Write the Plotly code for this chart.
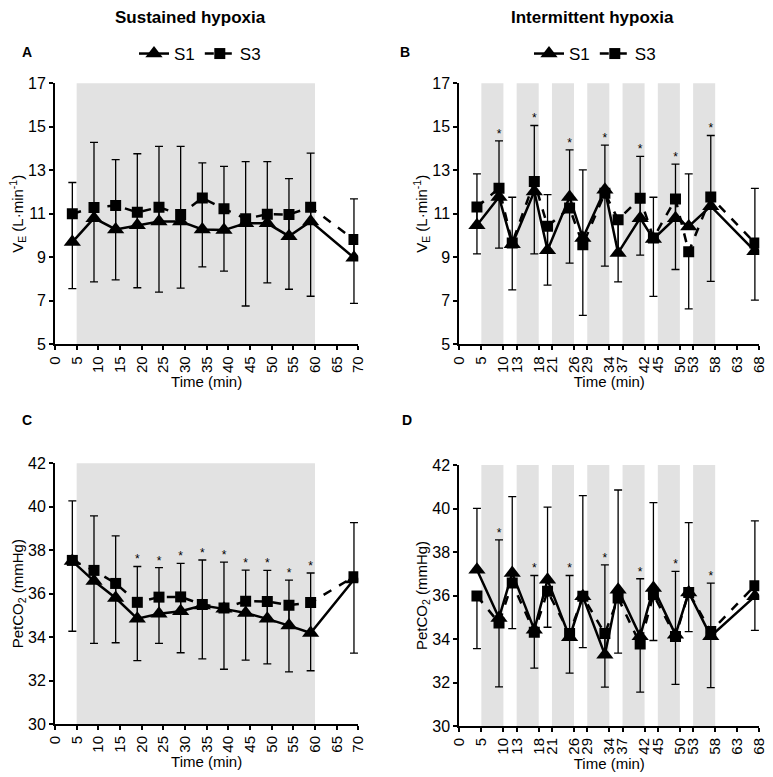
import plotly.graph_objects as go

# ---------------- data ----------------
# Sustained hypoxia (panels A, C)
time_sus = [4, 9, 14, 19, 24, 29, 34, 39, 44, 49, 54, 59, 69]
ticks_sus = [0, 5, 10, 15, 20, 25, 30, 35, 40, 45, 50, 55, 60, 65, 70]

ve_sus_s1 = [9.70, 10.80, 10.28, 10.47, 10.65, 10.65, 10.28, 10.25, 10.56, 10.56, 9.97, 10.65, 8.98]
ve_sus_s3 = [11.00, 11.29, 11.38, 11.07, 11.30, 10.97, 11.73, 11.23, 10.77, 10.98, 10.97, 11.30, 9.82]
ve_sus_s1_sd = [2.74, 3.48, 3.21, 3.29, 3.45, 3.45, 3.06, 2.93, 2.84, 2.84, 2.65, 3.14, 2.71]
ve_sus_s3_sd = [3.44, 3.42, 3.42, 3.47, 3.90, 3.39, 3.17, 2.87, 4.01, 3.16, 3.44, 4.09, 2.94]
ve_sus_sig = []

pet_sus_s1 = [37.50, 36.58, 35.80, 34.85, 35.07, 35.19, 35.45, 35.30, 35.11, 34.84, 34.53, 34.19, 36.65]
pet_sus_s3 = [37.53, 37.07, 36.47, 35.60, 35.84, 35.85, 35.50, 35.34, 35.65, 35.64, 35.47, 35.59, 36.78]
pet_sus_s1_sd = [2.77, 3.00, 2.86, 2.40, 2.13, 2.20, 2.10, 2.15, 1.97, 2.23, 2.09, 2.76, 2.62]
pet_sus_s3_sd = [3.26, 3.36, 2.73, 2.68, 2.13, 2.57, 2.50, 2.82, 2.71, 2.87, 3.07, 3.14, 3.52]
pet_sus_sig = [19, 24, 29, 34, 39, 44, 49, 54, 59]

# Intermittent hypoxia (panels B, D)
time_int = [4, 9, 12, 17, 20, 25, 28, 33, 36, 41, 44, 49, 52, 57, 67]
ticks_int = [0, 5, 10, 13, 18, 21, 26, 29, 34, 37, 42, 45, 50, 53, 58, 63, 68]
hypoxia_int = [(5, 10), (13, 18), (21, 26), (29, 34), (37, 42), (45, 50), (53, 58)]
hypoxia_sus = [(5, 60)]

ve_int_s1 = [10.47, 11.77, 9.60, 12.03, 9.32, 11.77, 9.89, 12.10, 9.20, 10.80, 9.84, 10.80, 10.42, 11.35, 9.28]
ve_int_s3 = [11.31, 12.18, 9.66, 12.49, 10.43, 11.27, 9.58, 11.95, 10.73, 11.72, 9.89, 11.68, 9.25, 11.77, 9.66]
ve_int_s1_sd = [2.37, 2.58, 2.16, 3.03, 2.56, 2.17, 3.13, 2.06, 1.40, 2.84, 1.92, 2.48, 2.42, 3.25, 2.89]
ve_int_s3_sd = [2.15, 2.76, 2.16, 3.33, 2.71, 2.54, 3.25, 3.36, 2.86, 2.62, 2.69, 3.24, 2.62, 3.88, 2.63]
ve_int_sig = [9, 17, 25, 33, 41, 49, 57]

pet_int_s1 = [37.18, 34.97, 37.03, 34.43, 36.72, 34.08, 35.96, 33.28, 36.27, 34.13, 36.34, 34.20, 36.14, 34.13, 35.96]
pet_int_s3 = [35.98, 34.74, 36.57, 34.31, 36.19, 34.25, 35.96, 34.25, 35.88, 33.77, 36.04, 34.11, 36.14, 34.35, 36.45]
pet_int_s1_sd = [2.83, 3.59, 3.52, 2.49, 3.34, 2.84, 4.63, 4.13, 4.58, 2.64, 3.93, 2.91, 3.21, 2.44, 3.47]
pet_int_s3_sd = [2.42, 2.94, 2.09, 1.65, 1.65, 1.82, 2.36, 2.46, 2.53, 2.21, 2.11, 2.20, 1.80, 2.59, 2.05]
pet_int_sig = [9, 17, 25, 33, 41, 49, 57]

series_names = ["S1", "S3"]

# ---------------- figure ----------------
W, H = 773, 777
FONT = "Liberation Sans, Arial, sans-serif"
fig = go.Figure()

def px_x(p):
    return p / W

def px_y(p):
    return 1 - p / H

panels = [
    ("1", time_sus, ve_sus_s1, ve_sus_s3, ve_sus_s1_sd, ve_sus_s3_sd, ve_sus_sig, ticks_sus, 70,
     [5, 17], [5, 7, 9, 11, 13, 15, 17], "V<sub>E</sub> (L·min<sup>-1</sup>)", hypoxia_sus,
     [px_x(55), px_x(358.3)], [px_y(344.3), px_y(83.3)], "legend", "A"),
    ("2", time_int, ve_int_s1, ve_int_s3, ve_int_s1_sd, ve_int_s3_sd, ve_int_sig, ticks_int, 68,
     [5, 17], [5, 7, 9, 11, 13, 15, 17], "V<sub>E</sub> (L·min<sup>-1</sup>)", hypoxia_int,
     [px_x(459.3), px_x(759.3)], [px_y(344.3), px_y(83.3)], "legend2", "B"),
    ("3", time_sus, pet_sus_s1, pet_sus_s3, pet_sus_s1_sd, pet_sus_s3_sd, pet_sus_sig, ticks_sus, 70,
     [30, 42], [30, 32, 34, 36, 38, 40, 42], "PetCO<sub>2</sub> (mmHg)", hypoxia_sus,
     [px_x(55), px_x(358.3)], [px_y(724), px_y(463.3)], None, "C"),
    ("4", time_int, pet_int_s1, pet_int_s3, pet_int_s1_sd, pet_int_s3_sd, pet_int_sig, ticks_int, 68,
     [30, 42], [30, 32, 34, 36, 38, 40, 42], "PetCO<sub>2</sub> (mmHg)", hypoxia_int,
     [px_x(459.3), px_x(759.3)], [px_y(726), px_y(465)], None, "D"),
]

layout_axes = {}
shapes = []
annotations = []

for (n, xs, s1, s3, sd1, sd3, sig, ticks, xmax, yr, ytv, ytitle, bands, xdom, ydom, leg, letter) in panels:
    xa = "x" if n == "1" else "x" + n
    ya = "y" if n == "1" else "y" + n
    xkey = "xaxis" if n == "1" else "xaxis" + n
    ykey = "yaxis" if n == "1" else "yaxis" + n

    for (b0, b1) in bands:
        shapes.append(dict(type="rect", xref=xa, yref=ya + " domain", x0=b0, x1=b1, y0=0, y1=1,
                           fillcolor="#e2e2e2", line=dict(width=0), layer="below"))

    show = leg is not None
    fig.add_trace(go.Scatter(
        x=xs, y=s1, name=series_names[0], mode="lines+markers", xaxis=xa, yaxis=ya,
        line=dict(color="black", width=2.5, dash="solid"),
        marker=dict(symbol="triangle-up", size=15, color="black"),
        error_y=dict(type="data", symmetric=False, array=sd1, arrayminus=[0] * len(sd1),
                     color="black", thickness=1.3, width=4),
        showlegend=show, legend=leg if show else "legend"))
    fig.add_trace(go.Scatter(
        x=xs, y=s3, name=series_names[1], mode="lines+markers", xaxis=xa, yaxis=ya,
        line=dict(color="black", width=2.5, dash="dash"),
        marker=dict(symbol="square", size=11, color="black"),
        error_y=dict(type="data", symmetric=False, array=[0] * len(sd3), arrayminus=sd3,
                     color="black", thickness=1.3, width=4),
        showlegend=show, legend=leg if show else "legend"))

    if sig:
        sx, sy = [], []
        for xv, m, d in zip(xs, s1, sd1):
            if xv in sig:
                sx.append(xv)
                sy.append(m + d)
        fig.add_trace(go.Scatter(x=sx, y=sy, mode="text", text=["*"] * len(sx),
                                 textposition="top center", textfont=dict(size=12, color="black", family=FONT),
                                 xaxis=xa, yaxis=ya, showlegend=False, hoverinfo="skip"))

    layout_axes[xkey] = dict(
        domain=xdom, anchor=ya, range=[0, xmax], tickmode="array", tickvals=ticks,
        ticktext=[str(t) for t in ticks], tickangle=-90, showgrid=False, zeroline=False,
        showline=True, linecolor="black", linewidth=2, ticks="outside", ticklen=4,
        tickwidth=1.5, tickcolor="black", tickfont=dict(size=15, family=FONT, color="black"),
        automargin=False,
        title=dict(text="Time (min)", font=dict(size=15, family=FONT, color="black"), standoff=0))
    layout_axes[ykey] = dict(
        domain=ydom, anchor=xa, range=yr, tickmode="array", tickvals=ytv, showgrid=False,
        zeroline=False, showline=True, linecolor="black", linewidth=2, ticks="outside",
        ticklen=4, tickwidth=1.5, tickcolor="black", automargin=False,
        tickfont=dict(size=16, family=FONT, color="black"),
        title=dict(text=ytitle, font=dict(size=15, family=FONT, color="black"), standoff=0))

letter_pos = {"A": (20, 52), "B": (398, 52), "C": (20, 420), "D": (400, 420)}
for L, (lx, ly) in letter_pos.items():
    annotations.append(dict(text="<b>%s</b>" % L, x=px_x(lx), y=px_y(ly), xref="paper", yref="paper",
                            xanchor="left", yanchor="middle", showarrow=False,
                            font=dict(size=14, family=FONT, color="black")))

annotations.append(dict(text="<b>Sustained hypoxia</b>", x=px_x(190), y=px_y(17), xref="paper", yref="paper",
                        xanchor="center", yanchor="middle", showarrow=False,
                        font=dict(size=17, family=FONT, color="black")))
annotations.append(dict(text="<b>Intermittent hypoxia</b>", x=px_x(592), y=px_y(17), xref="paper", yref="paper",
                        xanchor="center", yanchor="middle", showarrow=False,
                        font=dict(size=17, family=FONT, color="black")))

legend_common = dict(orientation="h", xanchor="center", yanchor="middle", bgcolor="rgba(0,0,0,0)",
                     font=dict(size=17, family=FONT, color="black"), itemwidth=30, tracegroupgap=0)

fig.update_layout(
    width=W, height=H, margin=dict(l=0, r=0, t=0, b=0, autoexpand=False),
    paper_bgcolor="white", plot_bgcolor="white",
    font=dict(family=FONT, color="black"),
    shapes=shapes, annotations=annotations,
    legend=dict(x=px_x(200), y=px_y(54), **legend_common),
    legend2=dict(x=px_x(595), y=px_y(54), **legend_common),
    **layout_axes)

fig.write_html("out.html", config={"displayModeBar": False},
               post_script="document.body.style.margin='0';document.body.style.overflow='hidden';")
